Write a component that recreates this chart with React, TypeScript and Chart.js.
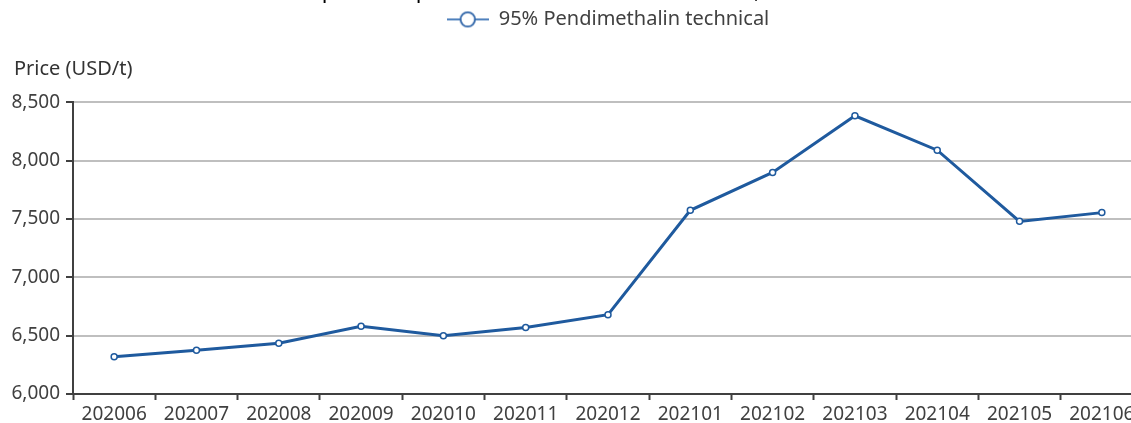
import React, { useEffect, useRef } from "react";
import { Chart, registerables } from "chart.js";

Chart.register(...registerables);

const categories = [
  "202006", "202007", "202008", "202009", "202010", "202011", "202012",
  "202101", "202102", "202103", "202104", "202105", "202106",
];
const prices = [6320, 6375, 6435, 6580, 6500, 6570, 6680, 7575, 7900, 8385, 8090, 7480, 7555];
const seriesName = "95% Pendimethalin technical";
const titleText = "Ex-works prices of pendimethalin technical in China, mid-2020 to mid-2021";
const yAxisLabel = "Price (USD/t)";
const yMin = 6000;
const yMax = 8500;
const yStep = 500;

const CANVAS_W = 1160;
const CANVAS_H = 453;
const SHIFT_Y = 30;

const yLabelClipFix = {
  id: "yLabelClipFix",
  afterLayout(chart: any) {
    const y = chart.scales && chart.scales.y;
    if (y) y.left = 0;
  },
};

export default function App() {
  const ref = useRef<HTMLCanvasElement | null>(null);

  useEffect(() => {
    if (!ref.current) return;
    Chart.defaults.font.family = "'Noto Sans', sans-serif";

    const marker = document.createElement("canvas");
    marker.width = 42;
    marker.height = 18;
    const mctx = marker.getContext("2d")!;
    mctx.strokeStyle = "#4f81bd";
    mctx.lineWidth = 2;
    mctx.beginPath();
    mctx.moveTo(0, 9);
    mctx.lineTo(42, 9);
    mctx.stroke();
    mctx.beginPath();
    mctx.arc(21, 9, 7.2, 0, Math.PI * 2);
    mctx.fillStyle = "#ffffff";
    mctx.fill();
    mctx.strokeStyle = "#2e64a8";
    mctx.lineWidth = 1.8;
    mctx.stroke();

    const chart = new Chart(ref.current, {
      type: "line",
      data: {
        labels: categories,
        datasets: [
          {
            label: seriesName,
            data: prices,
            borderColor: "#1f5a9e",
            borderWidth: 3,
            pointRadius: 3,
            pointBackgroundColor: "#ffffff",
            pointBorderColor: "#1f5a9e",
            pointBorderWidth: 1.5,
            tension: 0,
          },
        ],
      },
      plugins: [yLabelClipFix],
      options: {
        responsive: false,
        animation: false,
        layout: { padding: { top: 9, left: 14, right: CANVAS_W - 1143, bottom: 0 } },
        plugins: {
          tooltip: { enabled: false },
          title: {
            display: true,
            text: titleText,
            fullSize: false,
            color: "#000000",
            font: { size: 22, weight: "normal" },
            padding: { top: 0, bottom: 0 },
          },
          legend: {
            display: true,
            position: "top",
            fullSize: false,
            labels: {
              usePointStyle: true,
              pointStyle: marker as any,
              pointStyleWidth: 42,
              padding: 4,
              color: "#404040",
              font: { size: 20 },
            },
          },
          subtitle: {
            display: true,
            text: yAxisLabel,
            align: "start",
            fullSize: true,
            weight: 500,
            color: "#333333",
            font: { size: 20, weight: "normal" },
            padding: { top: 18, bottom: 21 },
          },
        },
        scales: {
          x: {
            offset: true,
            afterFit: (scale: any) => {
              scale.height = 29;
            },
            grid: {
              offset: true,
              drawOnChartArea: false,
              drawTicks: true,
              tickLength: 6,
              tickColor: "#404040",
              tickWidth: 2,
            },
            border: { color: "#404040", width: 2 },
            ticks: {
              autoSkip: false,
              maxRotation: 0,
              color: "#404040",
              font: { size: 19 },
              padding: 3,
            },
          },
          y: {
            min: yMin,
            max: yMax,
            afterFit: (scale: any) => {
              scale.width = 59;
            },
            grid: {
              color: "#bfbfbf",
              lineWidth: 2,
              tickLength: 7,
              tickColor: "#404040",
              tickWidth: 2,
            },
            border: { color: "#404040", width: 2 },
            ticks: {
              stepSize: yStep,
              color: "#404040",
              font: { size: 19 },
              padding: 6,
              callback: (v: any) => Number(v).toLocaleString("en-US"),
            },
          },
        },
      },
    });
    return () => chart.destroy();
  }, []);

  return (
    <div
      style={{
        position: "fixed",
        left: 0,
        top: 0,
        width: 1131,
        height: 423,
        overflow: "hidden",
        background: "#ffffff",
      }}
    >
      <canvas
        ref={ref}
        width={CANVAS_W}
        height={CANVAS_H}
        style={{ position: "absolute", left: 0, top: -SHIFT_Y, width: CANVAS_W, height: CANVAS_H }}
      />
    </div>
  );
}
